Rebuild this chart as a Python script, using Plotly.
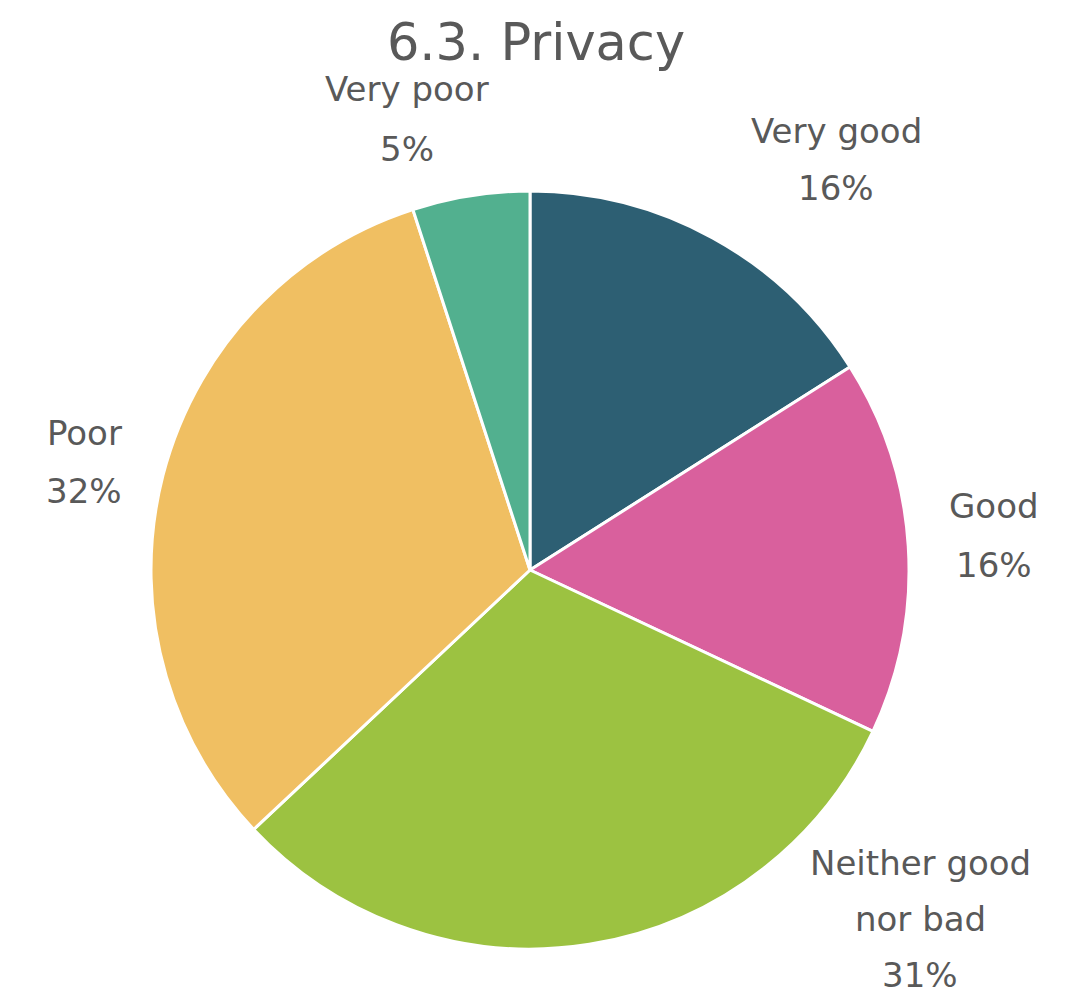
import plotly.graph_objects as go

# Survey answers for the privacy question
categories = ["Very good", "Good", "Neither good nor bad", "Poor", "Very poor"]
shares = [16, 16, 31, 32, 5]
colors = ["#2d5f73", "#d9609d", "#9cc241", "#f0bf62", "#52b08f"]

W, H = 1080, 997
FONT = "DejaVu Sans"
TEXT_COLOR = "#595959"

fig = go.Figure(
    go.Pie(
        labels=categories,
        values=shares,
        sort=False,
        direction="clockwise",
        rotation=0,
        marker=dict(colors=colors, line=dict(color="white", width=3)),
        textinfo="none",
        hoverinfo="label+percent",
        showlegend=False,
        domain=dict(x=[(530 - 379) / W, (530 + 379) / W],
                    y=[1 - 949 / H, 1 - 191 / H]),
    )
)

# Label block placement (pixel centres of each text line)
label_lines = {
    "Very good": [["Very good"], (836, 131), 57],
    "Good": [["Good"], (994, 506), 59],
    "Neither good nor bad": [["Neither good", "nor bad"], (920, 863), 56],
    "Poor": [["Poor"], (84, 433), 58],
    "Very poor": [["Very poor"], (407, 89), 60],
}

annotations = []
for cat, val in zip(categories, shares):
    lines, (cx, cy), step = label_lines[cat]
    texts = lines + [f"{val}%"]
    for i, t in enumerate(texts):
        annotations.append(dict(
            x=cx / W, y=1 - (cy + i * step) / H,
            xref="paper", yref="paper",
            text=t, showarrow=False,
            xanchor="center", yanchor="middle",
            font=dict(family=FONT, size=34, color=TEXT_COLOR),
        ))

fig.update_layout(
    width=W, height=H,
    margin=dict(l=0, r=0, t=0, b=0),
    paper_bgcolor="white",
    plot_bgcolor="white",
    title=dict(
        text="6.3. Privacy",
        x=536 / W, xanchor="center",
        y=1 - 42 / H, yanchor="middle",
        font=dict(family=FONT, size=51, color=TEXT_COLOR),
    ),
    annotations=annotations,
)

fig.write_html("out.html")
